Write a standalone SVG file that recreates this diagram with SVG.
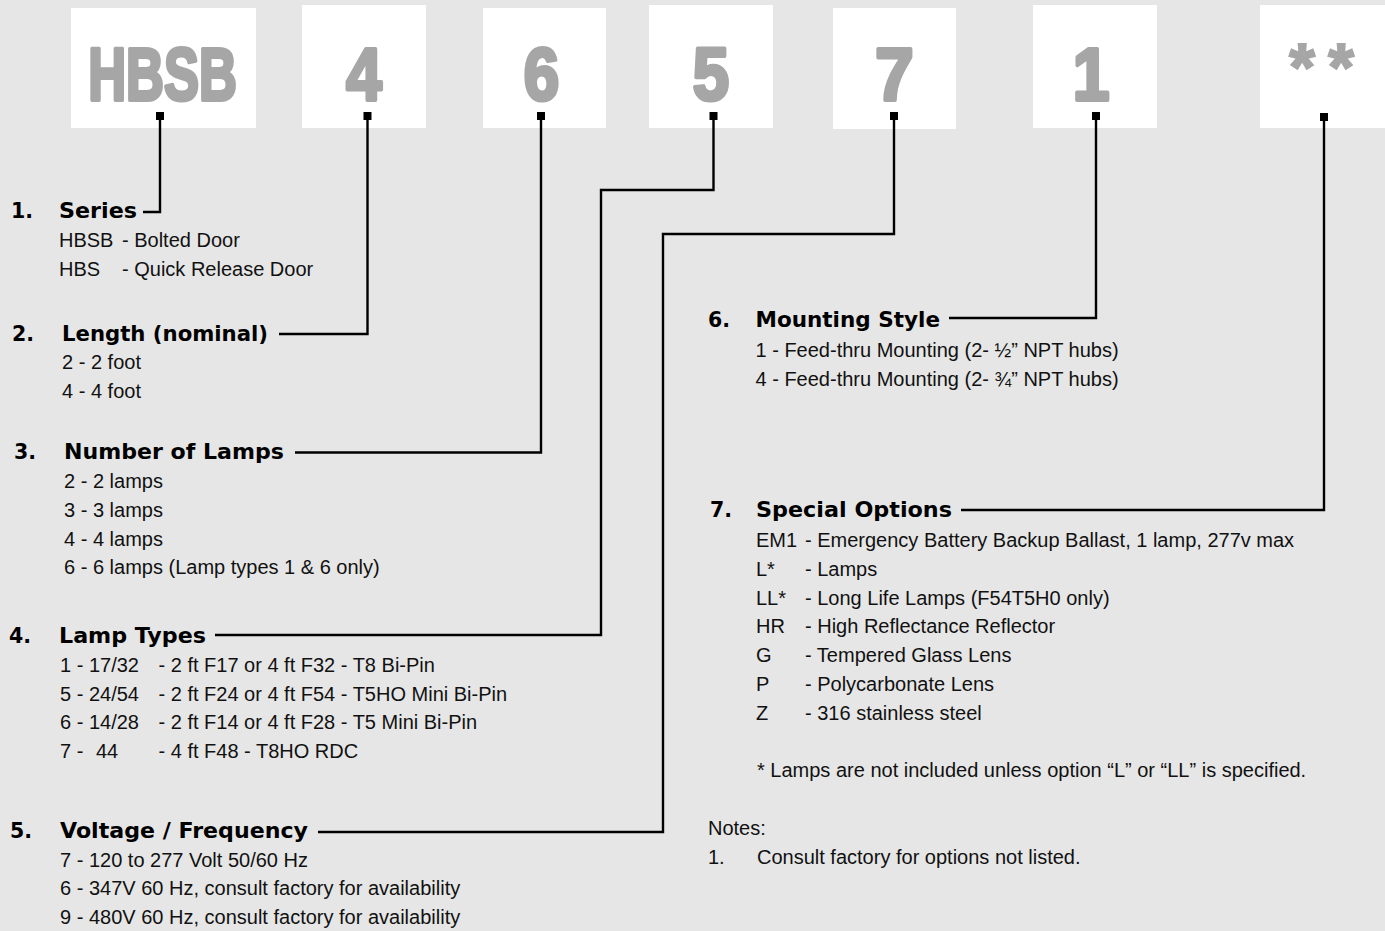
<svg xmlns="http://www.w3.org/2000/svg" width="1385" height="931" viewBox="0 0 1385 931">
<defs>
<style>
.bg{fill:#e6e6e6}
.box{fill:#ffffff}
.big{font-family:"Liberation Sans",Arial,sans-serif;font-weight:bold;font-size:75px;fill:#a6a6a6;stroke:#a6a6a6;stroke-width:4;stroke-linejoin:round;text-anchor:middle}
.ast{font-family:"Liberation Sans",Arial,sans-serif;font-weight:bold;font-size:66px;fill:#a6a6a6;stroke:#a6a6a6;stroke-width:2;text-anchor:middle}
.pin{fill:#000}
.wire{fill:none;stroke:#000;stroke-width:2.4}
.h{font-family:"DejaVu Sans","Liberation Sans",sans-serif;font-weight:bold;font-size:20.5px;fill:#000}
.t{font-family:"Liberation Sans",Arial,sans-serif;font-size:20px;fill:#111}
</style>
</defs>
<rect class="bg" x="0" y="0" width="1385" height="931"/>

<g id="node-series-code">
<rect class="box" x="71" y="8" width="185" height="120"/>
<text class="big" transform="translate(162.5,100) scale(0.70,1)">HBSB</text>
<rect class="pin" x="156" y="112" width="8" height="8"/>
</g>
<g id="node-length-code">
<rect class="box" x="302" y="5" width="124" height="123"/>
<text class="big" transform="translate(364,100) scale(0.85,1)">4</text>
<rect class="pin" x="363.5" y="112" width="8" height="8"/>
</g>
<g id="node-lamps-code">
<rect class="box" x="483" y="8" width="123" height="120"/>
<text class="big" transform="translate(541.5,100) scale(0.85,1)">6</text>
<rect class="pin" x="537" y="112" width="8" height="8"/>
</g>
<g id="node-lamptype-code">
<rect class="box" x="649" y="5" width="124" height="123"/>
<text class="big" transform="translate(711,100) scale(0.87,1)">5</text>
<rect class="pin" x="709.5" y="112" width="8" height="8"/>
</g>
<g id="node-voltage-code">
<rect class="box" x="833" y="8" width="123" height="121"/>
<text class="big" transform="translate(894.5,100) scale(0.92,1)">7</text>
<rect class="pin" x="890" y="112" width="8" height="8"/>
</g>
<g id="node-mounting-code">
<rect class="box" x="1033" y="5" width="124" height="123"/>
<text class="big" transform="translate(1091,100) scale(0.88,1)">1</text>
<rect class="pin" x="1092" y="112" width="8" height="8"/>
</g>
<g id="node-options-code">
<rect class="box" x="1260" y="5" width="125" height="123"/>
<text class="ast" x="1302" y="90">*</text>
<text class="ast" x="1341" y="90">*</text>
<rect class="pin" x="1320" y="113" width="8" height="8"/>
</g>

<g id="connectors">
<path class="wire" d="M160,118 V212 H143"/>
<path class="wire" d="M367.5,118 V334 H279"/>
<path class="wire" d="M541,118 V452.5 H295"/>
<path class="wire" d="M713.5,118 V190 H601 V635 H215"/>
<path class="wire" d="M894,118 V234 H663 V832 H318"/>
<path class="wire" d="M1096,118 V318 H949"/>
<path class="wire" d="M1324,118 V510 H961"/>
</g>

<g id="section-1-series">
<text class="h" x="11" y="218">1.</text>
<text class="h" x="59" y="218" textLength="78" lengthAdjust="spacingAndGlyphs">Series</text>
<text class="t" x="59" y="247">HBSB</text>
<text class="t" x="122" y="247">- Bolted Door</text>
<text class="t" x="59" y="276">HBS</text>
<text class="t" x="122" y="276">- Quick Release Door</text>
</g>

<g id="section-2-length">
<text class="h" x="12" y="341">2.</text>
<text class="h" x="62" y="341" textLength="206" lengthAdjust="spacingAndGlyphs">Length (nominal)</text>
<text class="t" x="62" y="369">2 - 2 foot</text>
<text class="t" x="62" y="398">4 - 4 foot</text>
</g>

<g id="section-3-lamps">
<text class="h" x="14" y="459">3.</text>
<text class="h" x="64" y="459" textLength="220" lengthAdjust="spacingAndGlyphs">Number of Lamps</text>
<text class="t" x="64" y="488">2 - 2 lamps</text>
<text class="t" x="64" y="517">3 - 3 lamps</text>
<text class="t" x="64" y="545.5">4 - 4 lamps</text>
<text class="t" x="64" y="574">6 - 6 lamps (Lamp types 1 &amp; 6 only)</text>
</g>

<g id="section-4-lamp-types">
<text class="h" x="9" y="643">4.</text>
<text class="h" x="59" y="643" textLength="147" lengthAdjust="spacingAndGlyphs">Lamp Types</text>
<text class="t" x="60" y="672">1 - 17/32</text>
<text class="t" x="158.5" y="672">- 2 ft F17 or 4 ft F32 - T8 Bi-Pin</text>
<text class="t" x="60" y="700.5">5 - 24/54</text>
<text class="t" x="158.5" y="700.5">- 2 ft F24 or 4 ft F54 - T5HO Mini Bi-Pin</text>
<text class="t" x="60" y="729">6 - 14/28</text>
<text class="t" x="158.5" y="729">- 2 ft F14 or 4 ft F28 - T5 Mini Bi-Pin</text>
<text class="t" x="60" y="758">7 -</text>
<text class="t" x="96" y="758">44</text>
<text class="t" x="158.5" y="758">- 4 ft F48 - T8HO RDC</text>
</g>

<g id="section-5-voltage">
<text class="h" x="10" y="838">5.</text>
<text class="h" x="60" y="838" textLength="248" lengthAdjust="spacingAndGlyphs">Voltage / Frequency</text>
<text class="t" x="60" y="866.5">7 - 120 to 277 Volt 50/60 Hz</text>
<text class="t" x="60" y="895">6 - 347V 60 Hz, consult factory for availability</text>
<text class="t" x="60" y="924">9 - 480V 60 Hz, consult factory for availability</text>
</g>

<g id="section-6-mounting">
<text class="h" x="708" y="327">6.</text>
<text class="h" x="755.5" y="327" textLength="184.5" lengthAdjust="spacingAndGlyphs">Mounting Style</text>
<text class="t" x="755.5" y="356.5">1 - Feed-thru Mounting (2- ½” NPT hubs)</text>
<text class="t" x="755.5" y="385.5">4 - Feed-thru Mounting (2- ¾” NPT hubs)</text>
</g>

<g id="section-7-options">
<text class="h" x="710" y="517">7.</text>
<text class="h" x="756" y="517" textLength="196" lengthAdjust="spacingAndGlyphs">Special Options</text>
<text class="t" x="756" y="546.5">EM1</text>
<text class="t" x="805" y="546.5">- Emergency Battery Backup Ballast, 1 lamp, 277v max</text>
<text class="t" x="756" y="575.5">L*</text>
<text class="t" x="805" y="575.5">- Lamps</text>
<text class="t" x="756" y="604.5">LL*</text>
<text class="t" x="805" y="604.5">- Long Life Lamps (F54T5H0 only)</text>
<text class="t" x="756" y="632.5">HR</text>
<text class="t" x="805" y="632.5">- High Reflectance Reflector</text>
<text class="t" x="756" y="661.5">G</text>
<text class="t" x="805" y="661.5">- Tempered Glass Lens</text>
<text class="t" x="756" y="690.5">P</text>
<text class="t" x="805" y="690.5">- Polycarbonate Lens</text>
<text class="t" x="756" y="719.5">Z</text>
<text class="t" x="805" y="719.5">- 316 stainless steel</text>
<text class="t" x="757" y="776.5">* Lamps are not included unless option “L” or “LL” is specified.</text>
</g>

<g id="notes">
<text class="t" x="708" y="834.5">Notes:</text>
<text class="t" x="708" y="863.5">1.</text>
<text class="t" x="757" y="863.5">Consult factory for options not listed.</text>
</g>
</svg>
